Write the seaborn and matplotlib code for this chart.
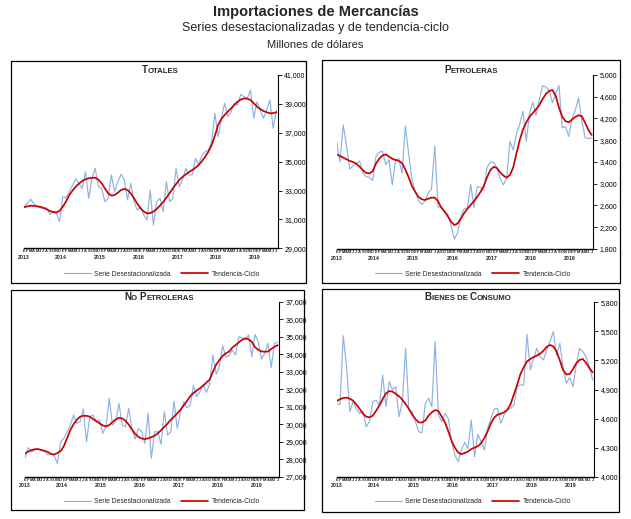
import numpy as np
import pandas as pd
import matplotlib
matplotlib.use("Agg")
import matplotlib.pyplot as plt
from matplotlib.patches import Rectangle
from matplotlib.offsetbox import TextArea, HPacker, AnnotationBbox
from matplotlib.ticker import FuncFormatter
import seaborn as sns

sns.set_theme(style="white")
plt.rcParams['font.family'] = ['Liberation Sans', 'DejaVu Sans']

# meses ene-2013 a jul-2019
letras_mes = ['E', 'F', 'M', 'A', 'M', 'J', 'J', 'A', 'S', 'O', 'N', 'D']
anios = ['2013', '2014', '2015', '2016', '2017', '2018', '2019']

totales_sd = [31880, 32100, 32400, 32100, 31880, 31800, 31770, 31800, 31350, 31530,
              31400, 30850, 32570, 32500, 32920, 33380, 33800, 33500, 33150, 34300,
              32460, 33850, 34540, 33270, 33150, 32230, 32460, 34080, 32920, 33610,
              34120, 33730, 32350, 33500, 32230, 31650, 31880, 31310, 30960, 33040,
              30610, 32230, 32460, 31540, 33610, 32230, 32460, 34540, 33270, 33730,
              34540, 34080, 34080, 35230, 34770, 35460, 35690, 35800, 36380, 38350,
              36730, 38000, 39040, 38110, 38460, 39040, 38920, 39660, 39500, 39380,
              39960, 38000, 39150, 38580, 38000, 38580, 39270, 37310, 38580]
totales_tc = [31840, 31900, 31950, 31940, 31910, 31880, 31800, 31700, 31580, 31520,
              31490, 31600, 31880, 32250, 32690, 33000, 33270, 33480, 33660, 33780,
              33850, 33880, 33890, 33750, 33500, 33150, 32810, 32650, 32690, 32850,
              33040, 33110, 33040, 32800, 32460, 32100, 31770, 31550, 31420, 31440,
              31540, 31720, 31950, 32200, 32500, 32820, 33150, 33450, 33730, 33950,
              34120, 34280, 34420, 34580, 34770, 35030, 35340, 35700, 36150, 36800,
              37540, 37950, 38230, 38470, 38690, 38930, 39150, 39300, 39380, 39360,
              39270, 39050, 38810, 38640, 38510, 38420, 38350, 38360, 38420]

petro_sd = [3774, 3400, 4080, 3700, 3270, 3330, 3370, 3420, 3200, 3130,
            3120, 3060, 3500, 3580, 3600, 3350, 3440, 2980, 3440, 3460,
            3190, 4060, 3560, 3100, 2850, 2700, 2620, 2680, 2830, 2900,
            3700, 2570, 2580, 2470, 2440, 2230, 1980, 2100, 2400, 2540,
            2560, 2990, 2560, 2950, 2930, 2880, 3300, 3400, 3390, 3300,
            3100, 2980, 3100, 3780, 3620, 3920, 4100, 4330, 3780, 4300,
            4500, 4260, 4550, 4800, 4780, 4720, 4490, 4650, 4810, 4030,
            4050, 3870, 4200, 4350, 4580, 4150, 3850, 3830, 3840]
petro_tc = [3541, 3510, 3480, 3450, 3420, 3400, 3370, 3314, 3250, 3200,
            3190, 3230, 3370, 3460, 3520, 3540, 3500, 3460, 3437, 3420,
            3380, 3260, 3120, 2960, 2855, 2760, 2715, 2701, 2725, 2745,
            2744, 2680, 2560, 2490, 2400, 2300, 2240, 2270, 2360, 2460,
            2540, 2610, 2680, 2760, 2850, 2960, 3120, 3250, 3310, 3290,
            3210, 3150, 3112, 3160, 3300, 3560, 3805, 4000, 4130, 4234,
            4300, 4370, 4448, 4560, 4650, 4706, 4724, 4620, 4400, 4230,
            4150, 4130, 4180, 4230, 4260, 4240, 4120, 3989, 3897]

nopetro_sd = [28085, 28660, 28430, 28520, 28560, 28520, 28520, 28240, 28330, 28200,
              27760, 29000, 29190, 29570, 29950, 30520, 30050, 30140, 30860, 29000,
              30430, 30520, 30140, 30240, 29480, 29860, 31480, 29950, 30140, 31190,
              29950, 29860, 30900, 29760, 29150, 29760, 29570, 28900, 30620, 28050,
              29570, 29570, 28850, 30710, 29380, 29570, 31320, 29760, 30710, 31290,
              30940, 31100, 32200, 31570, 31860, 32280, 31820, 32280, 33950, 32850,
              33290, 34480, 33860, 33910, 34240, 33950, 35000, 34940, 34810, 35100,
              33860, 35130, 34710, 33720, 34050, 34620, 33230, 34620, 34680]
nopetro_tc = [28330, 28430, 28520, 28570, 28580, 28530, 28470, 28420, 28300, 28270,
              28350, 28460, 28750, 29200, 29670, 30000, 30250, 30430, 30480, 30480,
              30430, 30300, 30170, 30050, 29930, 29880, 29950, 30120, 30270, 30370,
              30330, 30200, 29980, 29700, 29450, 29280, 29180, 29150, 29190, 29260,
              29340, 29480, 29650, 29850, 30030, 30250, 30430, 30620, 30820, 31070,
              31330, 31600, 31780, 31930, 32050, 32200, 32380, 32550, 33000, 33400,
              33670, 33900, 34050, 34150, 34380, 34520, 34680, 34820, 34910, 34850,
              34710, 34400, 34250, 34160, 34140, 34150, 34300, 34420, 34520]

consumo_sd = [4747, 4747, 5456, 5136, 4671, 4774, 4699, 4654, 4678, 4516,
              4568, 4774, 4791, 4733, 5050, 4723, 4981, 4895, 4929, 4619,
              4774, 5325, 4688, 4671, 4568, 4464, 4454, 4757, 4809, 4723,
              5394, 4637, 4568, 4654, 4602, 4361, 4224, 4155, 4275, 4354,
              4292, 4585, 4206, 4437, 4361, 4275, 4499, 4602, 4699, 4705,
              4551, 4637, 4688, 4705, 4740, 4929, 4946, 4946, 5470, 5101,
              5222, 5325, 5239, 5205, 5308, 5394, 5497, 5256, 5377, 5118,
              4964, 5022, 4929, 5153, 5325, 5291, 5239, 5136, 4998]
consumo_tc = [4781, 4800, 4812, 4816, 4805, 4785, 4745, 4700, 4650, 4620,
              4612, 4630, 4680, 4735, 4800, 4860, 4884, 4878, 4855, 4830,
              4795, 4750, 4700, 4640, 4595, 4560, 4560, 4580, 4630, 4665,
              4688, 4678, 4620, 4560, 4470, 4370, 4300, 4250, 4232, 4245,
              4260, 4285, 4300, 4315, 4345, 4400, 4470, 4550, 4610, 4640,
              4650, 4665, 4690, 4750, 4850, 4950, 5060, 5130, 5190, 5215,
              5235, 5250, 5270, 5300, 5340, 5360, 5345, 5290, 5200, 5100,
              5055, 5060, 5110, 5170, 5205, 5215, 5175, 5120, 5077]

W, H = 631, 519
AZUL = '#8DB3E2'
ROJO = '#CC0000'


def fx(px):
    return px / W


def fy(py):
    return 1 - py / H


# (titulo en versalitas, sd, tc, ticks y, ejes px, marco px, centro titulo, centro leyenda)
paneles = [
    ([('T', 'OTALES')], totales_sd, totales_tc, np.arange(29000, 41001, 2000),
     (24, 278, 75, 248.3), (11, 60.7, 305.7, 282.7), (160, 70), (162, 274)),
    ([('P', 'ETROLERAS')], petro_sd, petro_tc, np.arange(1800, 5001, 400),
     (336.7, 593.3, 75, 249), (321.7, 60, 619.7, 283), (471, 70), (473, 274)),
    ([('N', 'O '), ('P', 'ETROLERAS')], nopetro_sd, nopetro_tc, np.arange(27000, 37001, 1000),
     (25, 279.3, 301.7, 476.7), (11, 290, 303.7, 510), (159, 297), (162, 501.7)),
    ([('B', 'IENES DE '), ('C', 'ONSUMO')], consumo_sd, consumo_tc, np.arange(4000, 5801, 300),
     (336.7, 594.3, 302.3, 476.7), (322, 289, 619, 511.7), (468, 297), (473, 501.7)),
]

fig = plt.figure(figsize=(W / 100, H / 100), dpi=100)

fig.text(0.5, fy(12), 'Importaciones de Mercancías', ha='center', va='center',
         fontsize=10.5, fontweight='bold')
fig.text(0.5, fy(28.5), 'Series desestacionalizadas y de tendencia-ciclo', ha='center',
         va='center', fontsize=9)
fig.text(0.5, fy(45), 'Millones de dólares', ha='center', va='center', fontsize=8)

n = len(totales_sd)
mes = np.arange(n)
etiquetas = [letras_mes[i % 12] for i in range(n)]

for titulo, sd, tc, yt, (l, r, t, b), (fl, ft, fr, fb), tcen, lcen in paneles:
    fig.patches.append(Rectangle((fx(fl), fy(fb)), fx(fr) - fx(fl), fy(ft) - fy(fb),
                                 transform=fig.transFigure, fill=False,
                                 edgecolor='black', lw=0.9))
    ax = fig.add_axes([fx(l), fy(b), fx(r) - fx(l), fy(t) - fy(b)])
    df = pd.DataFrame({'mes': mes, 'sd': sd, 'tc': tc})
    sns.lineplot(data=df, x='mes', y='sd', ax=ax, color=AZUL, lw=0.85,
                 label='Serie Desestacionalizada')
    sns.lineplot(data=df, x='mes', y='tc', ax=ax, color=ROJO, lw=1.25,
                 label='Tendencia-Ciclo')
    ax.set_xlim(0, n - 0.5)
    ax.set_ylim(yt[0], yt[-1])
    ax.set_xlabel('')
    ax.set_ylabel('')
    ax.yaxis.tick_right()
    ax.set_yticks(yt)
    ax.yaxis.set_major_formatter(FuncFormatter(lambda v, p: f'{int(v):,}'))
    ax.tick_params(axis='y', direction='out', length=3, width=0.6, pad=1.5,
                   labelsize=5, colors='black', right=True)
    ax.set_xticks(mes)
    ax.set_xticklabels(etiquetas, fontsize=2.9, fontweight='bold')
    ax.tick_params(axis='x', length=0, pad=0.6)
    for s in ['left', 'top']:
        ax.spines[s].set_visible(False)
    ax.spines['right'].set_color('black')
    ax.spines['right'].set_linewidth(0.8)
    ax.spines['bottom'].set_color('black')
    ax.spines['bottom'].set_linewidth(1.0)
    for k, a in enumerate(anios):
        ax.annotate(a, xy=(max(0, 12 * k - 0.6), 0), xycoords=('data', 'axes fraction'),
                    xytext=(0, -6.5), textcoords='offset points', ha='center',
                    va='center', fontsize=3.8, fontweight='bold', annotation_clip=False)
    ax.legend(loc='center', bbox_to_anchor=(fx(lcen[0]), fy(lcen[1])),
              bbox_transform=fig.transFigure, ncol=2, frameon=False, fontsize=4.9,
              handlelength=4.0, handletextpad=0.5, columnspacing=1.5)

    # titulo en versalitas
    partes = []
    for grande, chica in titulo:
        partes.append(TextArea(grande, textprops=dict(fontsize=7, fontweight='bold')))
        partes.append(TextArea(chica, textprops=dict(fontsize=5.6, fontweight='bold')))
    caja = HPacker(children=partes, align='baseline', pad=0, sep=0)
    fig.add_artist(AnnotationBbox(caja, (fx(tcen[0]), fy(tcen[1])),
                                  xycoords='figure fraction', frameon=False,
                                  box_alignment=(0.5, 0.5)))

fig.savefig('out.png', dpi=100)
